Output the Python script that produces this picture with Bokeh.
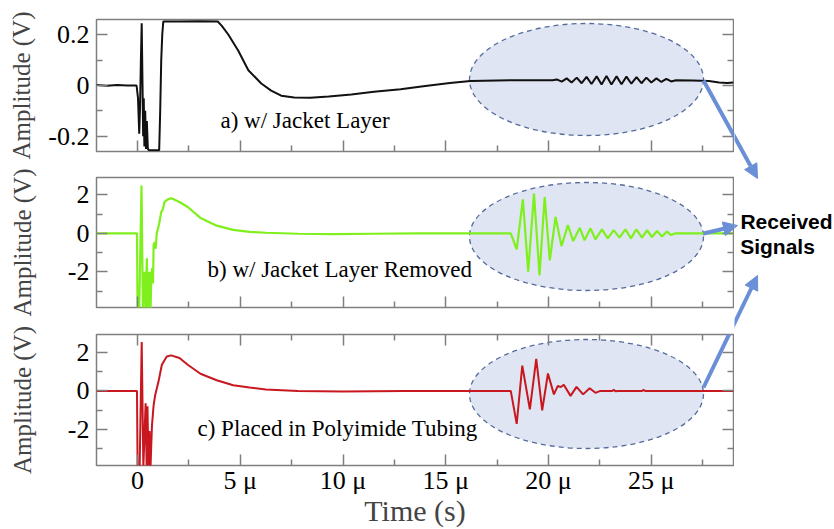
from bokeh.plotting import figure
from bokeh.models import Range1d, LinearAxis, FixedTicker, Label, Arrow, NormalHead
from bokeh.layouts import column, row
from bokeh.embed import file_html
from bokeh.resources import INLINE

# ---------------- data (time in microseconds, amplitude in V) ----------------
x_major = [0, 5, 10, 15, 20, 25]
x_minor = [2.5, 7.5, 12.5, 17.5, 22.5, 27.5]
x_labels = ["0", "5 μ", "10 μ", "15 μ", "20 μ", "25 μ"]

ya_major = [-0.2, 0, 0.2]
ya_minor = [-0.1, 0.1]
ya_labels = ["-0.2", "0", "0.2"]
yb_major = [-2, 0, 2]
yb_minor = [-3, -1, 1]
yb_labels = ["-2", "0", "2"]

time_a = [-2.0, -1.5, -1.0, -0.5, -0.05, 0.02, 0.08, 0.12, 0.16, 0.20, 0.24, 0.27, 0.30, 0.33,
          0.37, 0.41, 0.45, 0.50, 0.55, 1.05, 1.10, 1.15, 1.20, 1.25, 2.0, 3.0, 3.9, 4.1, 4.42,
          4.9, 5.39, 6.02, 6.5, 6.99, 7.62, 8.4, 9.3, 10.4, 11.5, 12.8, 14.0, 15.2, 16.2, 17.5,
          19.0, 20.2, 20.40, 20.64, 20.88, 21.12, 21.37, 21.61, 21.85, 22.09, 22.34, 22.58,
          22.82, 23.06, 23.31, 23.55, 23.79, 24.03, 24.28, 24.52, 24.76, 25.00, 25.25, 25.49,
          25.73, 25.97, 26.2, 27.0, 27.8, 28.3, 28.7, 29.0]
amp_a = [0.002, -0.001, 0.002, 0.0, 0.0, -0.05, -0.19, -0.08, 0.1, 0.245, 0.0, -0.2, -0.05, -0.24,
         -0.1, -0.25, -0.14, -0.25, -0.255, -0.255, -0.1, 0.1, 0.2, 0.252, 0.252, 0.253, 0.252,
         0.235, 0.2, 0.137, 0.06, 0.008, -0.02, -0.04, -0.047, -0.048, -0.043, -0.035, -0.025,
         -0.015, -0.002, 0.01, 0.018, 0.02, 0.021, 0.021, 0.024, 0.015, 0.028, 0.012, 0.031,
         0.009, 0.034, 0.006, 0.036, 0.004, 0.037, 0.004, 0.036, 0.005, 0.035, 0.007, 0.033,
         0.009, 0.031, 0.012, 0.028, 0.014, 0.026, 0.016, 0.021, 0.02, 0.018, 0.012, 0.01, 0.012]

time_b = [-2.0, -0.03, 0.0, 0.08, 0.19, 0.26, 0.30, 0.34, 0.37, 0.39, 0.45, 0.48, 0.50, 0.54,
          0.58, 0.60, 0.63, 0.67, 0.71, 0.75, 0.78, 0.83, 0.88, 0.93, 0.99, 1.05, 1.15, 1.23,
          1.31, 1.45, 1.63, 1.80, 2.04, 2.44, 3.06, 3.85, 4.65, 5.45, 6.24, 7.8, 9.5, 11.5,
          13.5, 16.0, 18.16, 18.45, 18.75, 19.01, 19.29, 19.56, 19.81, 20.06, 20.34, 20.63,
          20.94, 21.2, 21.52, 21.75, 22.04, 22.28, 22.6, 22.88, 23.17, 23.45, 23.74, 24.01,
          24.27, 24.55, 24.79, 25.03, 25.28, 25.52, 25.76, 25.96, 26.17, 29.0]
amp_b = [0.0, 0.0, -4.0, -4.0, 2.49, -4.0, -2.6, -2.0, -3.3, -4.0, -1.3, -2.9, -4.0, -2.4,
         -2.0, -3.5, -4.0, -2.2, -1.8, -2.6, -0.6, -0.45, -0.8, 0.0, 0.24, 0.5, 1.1, 1.25,
         1.63, 1.75, 1.82, 1.75, 1.63, 1.37, 0.8, 0.4, 0.18, 0.08, 0.03, -0.02, -0.04, -0.02,
         0.0, 0.0, 0.0, -0.83, 1.77, -1.99, 2.06, -2.18, 1.89, -1.4, 0.85, -0.66, 0.43, -0.4,
         0.29, -0.36, 0.26, -0.31, 0.21, -0.26, 0.17, -0.22, 0.21, -0.26, 0.21, -0.22, 0.16,
         -0.19, 0.12, -0.16, 0.09, -0.09, 0.0, 0.0]

time_c = [-2.0, -0.03, 0.0, 0.1, 0.2, 0.28, 0.33, 0.39, 0.44, 0.48, 0.53, 0.56, 0.58, 0.63,
          0.66, 0.70, 0.78, 0.86, 1.02, 1.18, 1.42, 1.63, 2.04, 2.44, 3.06, 3.85, 4.65, 5.45,
          6.24, 7.8, 10.0, 13.0, 18.16, 18.45, 18.72, 19.09, 19.4, 19.69, 19.97, 20.26, 20.45,
          20.6, 20.74, 21.07, 21.36, 21.68, 22.0, 22.28, 22.52, 23.1, 23.17, 23.25, 23.4,
          24.55, 24.63, 24.7, 29.0]
amp_c = [0.0, 0.0, -4.0, -4.0, 2.56, -4.0, -2.5, -0.65, -4.0, -0.8, -4.0, -2.8, -2.1, -4.0,
         -3.0, -1.8, -0.74, -0.2, 0.5, 1.37, 1.8, 1.86, 1.72, 1.37, 0.9, 0.56, 0.3, 0.18, 0.07,
         0.0, -0.03, 0.0, 0.0, -1.72, 1.32, -0.96, 1.67, -1.02, 0.91, -0.18, 0.26, 0.2, 0.32,
         -0.26, 0.21, -0.18, 0.14, -0.1, 0.0, 0.0, 0.06, -0.02, 0.0, 0.0, 0.05, 0.0, 0.0]

panel_texts = ["a) w/ Jacket Layer", "b) w/ Jacket Layer Removed", "c) Placed in Polyimide Tubing"]
note_lines = ["Received", "Signals"]

# ---------------- layout geometry (page pixels) ----------------
XR = (-2.0, 29.0)
FL, FR = 96, 733
MAIN_W = 734
SIDE_W = 834 - MAIN_W
PANELS = {"a": (19, 151, -0.26, 0.26), "b": (177, 307, -3.85, 2.9), "c": (334, 465, -3.9, 2.95)}
CANVAS = {"a": (0, 160), "b": (160, 320), "c": (320, 529)}
ELL = {"a": (23, 135), "b": (182, 290), "c": (339, 448)}

SERIF = "Liberation Serif"
GRAY = "#7f7f7f"
ARROW = "#6a8fd6"
ELL_FILL = "#dfe5f2"
ELL_LINE = "#556b9c"

# pointer arrows, page pixels: (start, tip)
ARROWS = {"a": ((703, 80), (757, 178)), "b": ((703, 233), (737, 225)), "c": ((703, 387), (757, 275))}


def fx(px):
    return XR[0] + (px - FL) * (XR[1] - XR[0]) / (FR - FL)


def fy(key, py):
    top, bot, y0, y1 = PANELS[key]
    return y1 - (py - top) * (y1 - y0) / (bot - top)


def style_axis(ax, ticks, minor, labels, show_labels):
    ax.ticker = FixedTicker(ticks=ticks, minor_ticks=minor)
    ax.major_tick_in = 11
    ax.major_tick_out = 0
    ax.minor_tick_in = 6
    ax.minor_tick_out = 0
    ax.major_tick_line_color = GRAY
    ax.minor_tick_line_color = GRAY
    ax.major_tick_line_width = 1.5
    ax.minor_tick_line_width = 1.5
    ax.axis_line_color = None
    if show_labels:
        ax.major_label_overrides = {t: l for t, l in zip(ticks, labels)}
        ax.major_label_text_font = SERIF
        ax.major_label_text_color = "black"
        ax.major_label_text_font_size = "26px"
        ax.major_label_standoff = 7
    else:
        ax.major_label_text_color = None
        ax.major_label_text_font_size = "0px"
        ax.major_label_standoff = 0


def make_panel(key, time, amp, color, lw, yticks, yminor, ylabels, ylabel_standoff,
               bottom_labels=False, top_ticks=False):
    top, bot, y0, y1 = PANELS[key]
    ct, cb = CANVAS[key]
    p = figure(width=MAIN_W, height=cb - ct, x_range=Range1d(*XR), y_range=Range1d(y0, y1),
               output_backend="svg", toolbar_location=None,
               min_border_left=FL, min_border_right=MAIN_W - FR,
               min_border_top=top - ct, min_border_bottom=cb - bot)
    p.grid.visible = False
    p.outline_line_color = GRAY
    p.outline_line_width = 1.5
    p.background_fill_color = "white"
    p.border_fill_color = "white"

    xb = p.xaxis[0]
    yl = p.yaxis[0]
    style_axis(xb, x_major, x_minor, x_labels, bottom_labels)
    style_axis(yl, yticks, yminor, ylabels, True)
    yl.axis_label = "Amplitude (V)"
    yl.axis_label_text_font = SERIF
    yl.axis_label_text_font_size = "25px"
    yl.axis_label_text_font_style = "normal"
    yl.axis_label_standoff = ylabel_standoff

    right = LinearAxis()
    style_axis(right, yticks, yminor, ylabels, False)
    p.add_layout(right, "right")
    if top_ticks:
        above = LinearAxis()
        style_axis(above, x_major, x_minor, x_labels, False)
        p.add_layout(above, "above")
    if bottom_labels:
        xb.major_label_standoff = 0
        xb.axis_label = "Time (s)"
        xb.axis_label_text_font = SERIF
        xb.axis_label_text_font_size = "30px"
        xb.axis_label_text_font_style = "normal"
        xb.axis_label_standoff = -4

    # highlighted region of the received signal
    ex0, ex1 = fx(469), fx(703)
    e_top, e_bot = fy(key, ELL[key][0]), fy(key, ELL[key][1])
    p.ellipse(x=(ex0 + ex1) / 2, y=(e_top + e_bot) / 2, width=ex1 - ex0, height=e_top - e_bot,
              fill_color=ELL_FILL, line_color=ELL_LINE, line_dash="5 4", line_width=1.3)
    p.line(time, amp, line_color=color, line_width=lw)

    # part of the pointer arrow that lies inside this panel
    (sx, sy), (ex, ey) = ARROWS[key]
    end = NormalHead(size=14, fill_color=ARROW, line_color=ARROW) if key == "b" else None
    p.add_layout(Arrow(x_start=fx(sx), y_start=fy(key, sy), x_end=fx(ex), y_end=fy(key, ey),
                       line_color=ARROW, line_width=4, end=end))
    return p


pa = make_panel("a", time_a, amp_a, "#111111", 2.0, ya_major, ya_minor, ya_labels, 10)
pb = make_panel("b", time_b, amp_b, "#7ff01e", 2.2, yb_major, yb_minor, yb_labels, 29)
pc = make_panel("c", time_c, amp_c, "#c8171f", 2.0, yb_major, yb_minor, yb_labels, 29,
                bottom_labels=True, top_ticks=True)

# panel captions
for p, key, txt, px, py in [(pa, "a", panel_texts[0], 220, 120),
                            (pb, "b", panel_texts[1], 207, 269),
                            (pc, "c", panel_texts[2], 197, 428)]:
    p.add_layout(Label(x=fx(px), y=fy(key, py), text=txt, text_font=SERIF,
                       text_font_size="23px", text_color="black", text_align="left",
                       text_baseline="alphabetic"))

# ---------------- right-hand annotation strip (page-pixel coordinates) ----------------
side = figure(width=SIDE_W, height=529, x_range=Range1d(MAIN_W, 834), y_range=Range1d(529, 0),
              output_backend="svg", toolbar_location=None, min_border=0,
              x_axis_location=None, y_axis_location=None)
side.grid.visible = False
side.outline_line_color = None
side.background_fill_color = "white"
side.border_fill_color = "white"

for key, ((sx, sy), (ex, ey)) in ARROWS.items():
    # start a little left of the strip so the line continues across the join
    t = (725 - sx) / (ex - sx)
    side.add_layout(Arrow(x_start=725, y_start=sy + t * (ey - sy), x_end=ex, y_end=ey,
                          line_color=ARROW, line_width=4,
                          end=NormalHead(size=14, fill_color=ARROW, line_color=ARROW)))

side.add_layout(Label(x=786, y=221, text=note_lines[0], text_font="Liberation Sans",
                      text_font_style="bold", text_font_size="21px", text_color="black",
                      text_align="center", text_baseline="middle"))
side.add_layout(Label(x=777, y=246, text=note_lines[1], text_font="Liberation Sans",
                      text_font_style="bold", text_font_size="21px", text_color="black",
                      text_align="center", text_baseline="middle"))

layout = row(column(pa, pb, pc, spacing=0), side, spacing=0)
open("out.html", "w").write(file_html(layout, INLINE))
